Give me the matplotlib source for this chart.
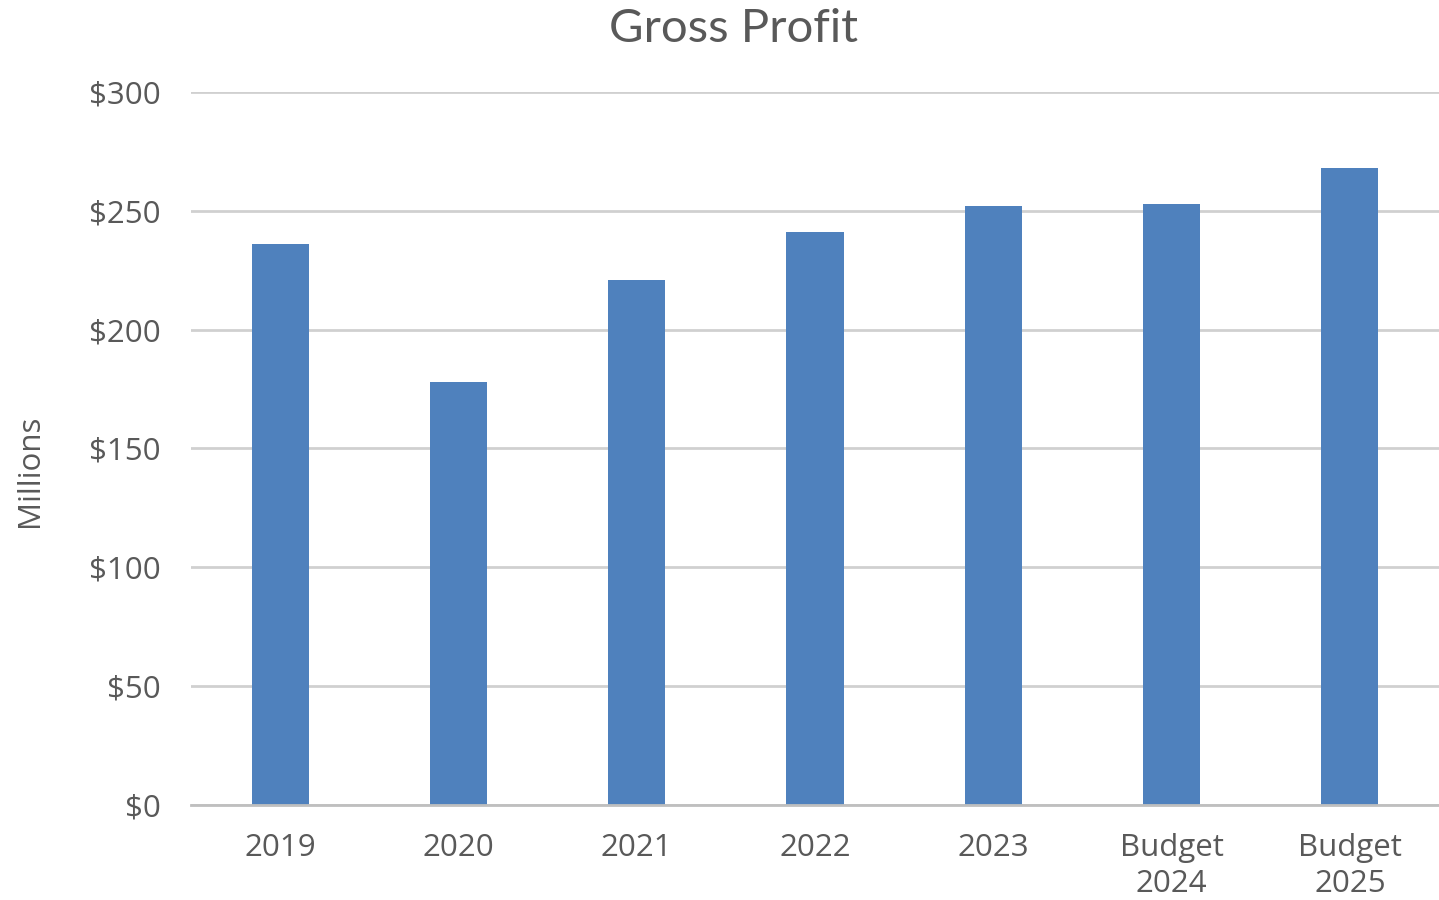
import matplotlib
matplotlib.use("Agg")
import matplotlib.pyplot as plt
from matplotlib.ticker import FuncFormatter, MultipleLocator

CATEGORIES = ["2019", "2020", "2021", "2022", "2023", "Budget\n2024", "Budget\n2025"]
GROSS_PROFIT = [236, 178, 221, 241, 252, 253, 268]

BAR_COLOR = "#4F81BD"
TEXT_COLOR = "#595959"
GRID_COLOR = "#D0D0D0"

plt.rcParams["font.family"] = ["Open Sans", "DejaVu Sans"]

fig = plt.figure(figsize=(14.39, 9.0), dpi=100)
ax = fig.add_axes([0.1327, 0.1056, 0.8673, 0.7922])

ax.bar(range(len(CATEGORIES)), GROSS_PROFIT, width=0.32, color=BAR_COLOR, zorder=3)

ax.set_xlim(-0.5, len(CATEGORIES) - 0.5)
ax.set_ylim(0, 300)
ax.yaxis.set_major_locator(MultipleLocator(50))
ax.yaxis.set_major_formatter(FuncFormatter(lambda v, _: f"${v:.0f}"))
ax.set_xticks(range(len(CATEGORIES)))
ax.set_xticklabels(CATEGORIES, linespacing=1.27)

ax.grid(axis="y", color=GRID_COLOR, linewidth=2, zorder=0)
for side in ("top", "right", "left"):
    ax.spines[side].set_visible(False)
ax.spines["bottom"].set_color("#BFBFBF")
ax.spines["bottom"].set_linewidth(2)
ax.spines["bottom"].set_zorder(4)

ax.tick_params(axis="both", length=0, labelsize=22.5, labelcolor=TEXT_COLOR)
ax.tick_params(axis="y", pad=22)
ax.tick_params(axis="x", pad=20)

fig.text(0.021, 0.477, "Millions", rotation=90, ha="center", va="center",
         fontsize=22.5, color=TEXT_COLOR)
fig.text(0.510, 0.968, "Gross Profit", ha="center", va="center",
         fontsize=34, color=TEXT_COLOR, family=["Lato", "DejaVu Sans"])

fig.savefig("out.png", dpi=100)
